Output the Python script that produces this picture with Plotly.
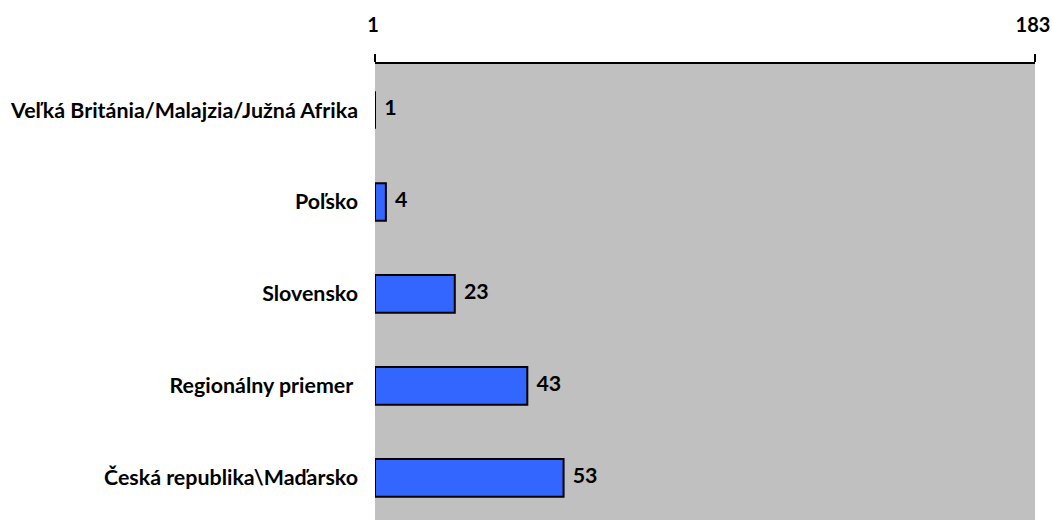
import plotly.graph_objects as go

categories = ["Veľká Británia/Malajzia/Južná Afrika", "Poľsko", "Slovensko",
              "Regionálny priemer ", "Česká republika\\Maďarsko"]
values = [1, 4, 23, 43, 53]
axis_min = 1
axis_max = 183
tick_values = [1, 183]
tick_labels = ["1", "183"]

FONT = "Lato"
FS = 21.4

fig = go.Figure()
fig.add_trace(go.Bar(
    y=categories,
    x=[v - axis_min for v in values],
    base=axis_min,
    orientation="h",
    width=0.41,
    marker=dict(color="#3366FF", line=dict(color="#000000", width=2)),
    hoverinfo="skip",
    showlegend=False,
))
fig.add_trace(go.Scatter(
    y=categories,
    x=values,
    mode="markers+text",
    marker=dict(size=13, opacity=0),
    text=[str(v) for v in values],
    textposition="middle right",
    textfont=dict(family=FONT, size=FS, color="#000000", weight="bold"),
    hoverinfo="skip",
    showlegend=False,
))

fig.update_layout(
    width=1052, height=520,
    margin=dict(l=375, r=17, t=64, b=0),
    paper_bgcolor="#FFFFFF",
    plot_bgcolor="#C0C0C0",
    font=dict(family=FONT, size=FS, color="#000000", weight="bold"),
    xaxis=dict(
        range=[axis_min, axis_max],
        side="top",
        tickvals=tick_values,
        ticktext=tick_labels,
        ticks="outside",
        ticklen=8,
        tickwidth=2,
        tickcolor="#000000",
        showline=True,
        linecolor="#000000",
        linewidth=2,
        showgrid=False,
        zeroline=False,
        automargin=False,
        ticklabeloverflow="allow",
        ticklabelstandoff=14,
        ticklabelshift=-2,
        tickfont=dict(family=FONT, size=20, color="#000000", weight="bold"),
    ),
    yaxis=dict(
        categoryorder="array",
        categoryarray=categories,
        range=[4.457, -0.5],
        showgrid=False,
        zeroline=False,
        showline=False,
        ticks="",
        automargin=False,
        ticklabelstandoff=16,
        tickfont=dict(family=FONT, size=FS, color="#000000", weight="bold"),
    ),
)

fig.write_html("out.html",
               config={"displayModeBar": False},
               post_script="document.body.style.margin='0';document.body.style.overflow='hidden';")
